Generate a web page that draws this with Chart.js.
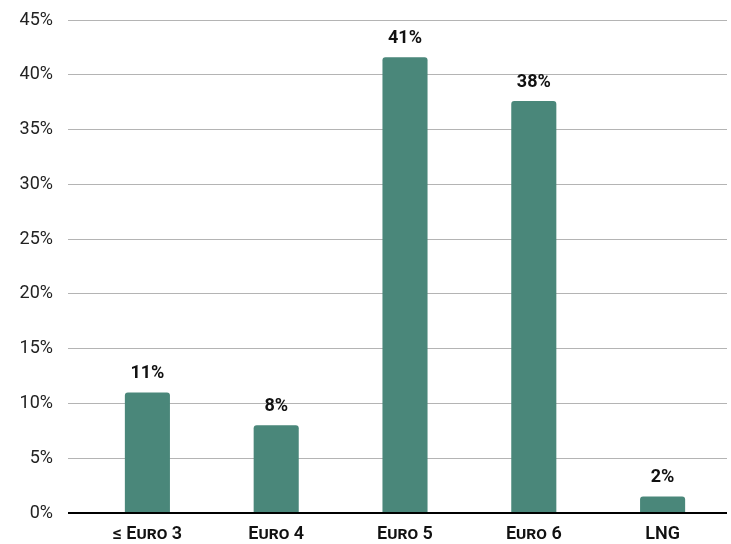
<!DOCTYPE html>
<html>
<head>
<meta charset="utf-8">
<script src="https://cdn.jsdelivr.net/npm/chart.js@4"></script>
<style>
html,body{margin:0;padding:0;background:#fff;}
#wrap{width:731px;height:544px;}
</style>
</head>
<body>
<div id="wrap"><canvas id="c" width="731" height="544"></canvas></div>
<script>
const categories = ['≤ Euro 3', 'Euro 4', 'Euro 5', 'Euro 6', 'LNG'];
const shares = [11.0, 8.0, 41.6, 37.6, 1.5];
const shareLabels = ['11%', '8%', '41%', '38%', '2%'];
const yTicks = [0, 5, 10, 15, 20, 25, 30, 35, 40, 45];

const barLabelPlugin = {
  id: 'barLabels',
  afterDatasetsDraw(chart) {
    const ctx = chart.ctx;
    const meta = chart.getDatasetMeta(0);
    ctx.save();
    ctx.font = 'bold 18px Roboto';
    ctx.fillStyle = '#111';
    ctx.textAlign = 'center';
    ctx.textBaseline = 'bottom';
    meta.data.forEach((bar, i) => {
      ctx.fillText(shareLabels[i], bar.x, bar.y - 10);
    });
    ctx.restore();
  }
};

new Chart(document.getElementById('c'), {
  type: 'bar',
  data: {
    labels: categories,
    datasets: [{
      data: shares,
      backgroundColor: '#4a877a',
      borderRadius: 3,
      borderSkipped: 'bottom',
      barPercentage: 0.35,
      categoryPercentage: 1.0
    }]
  },
  options: {
    responsive: false,
    animation: false,
    layout: { padding: { left: 0, right: 4, top: 20, bottom: 0 } },
    plugins: { legend: { display: false }, tooltip: { enabled: false } },
    scales: {
      x: {
        grid: { display: false },
        border: { display: false },
        afterFit(scale) { scale.height = 31; scale.paddingLeft = 0; scale.paddingRight = 0; },
        ticks: {
          color: '#111',
          padding: 3,
          font: { family: 'Roboto', size: 18, weight: 'small-caps 600' }
        }
      },
      y: {
        min: 0, max: 45,
        afterBuildTicks(scale) { scale.ticks = yTicks.map(v => ({ value: v })); },
        afterFit(scale) { scale.width = 83; scale.paddingTop = 0; scale.paddingBottom = 0; },
        border: { display: false },
        grid: {
          drawTicks: true,
          tickLength: 15,
          color: c => (c.tick && c.tick.value === 0) ? '#000' : '#b4b4b4',
          lineWidth: c => (c.tick && c.tick.value === 0) ? 2 : 1
        },
        ticks: {
          color: '#222',
          padding: 15,
          font: { family: 'Roboto', size: 18 },
          callback: v => v + '%'
        }
      }
    }
  },
  plugins: [barLabelPlugin]
});
</script>
</body>
</html>
